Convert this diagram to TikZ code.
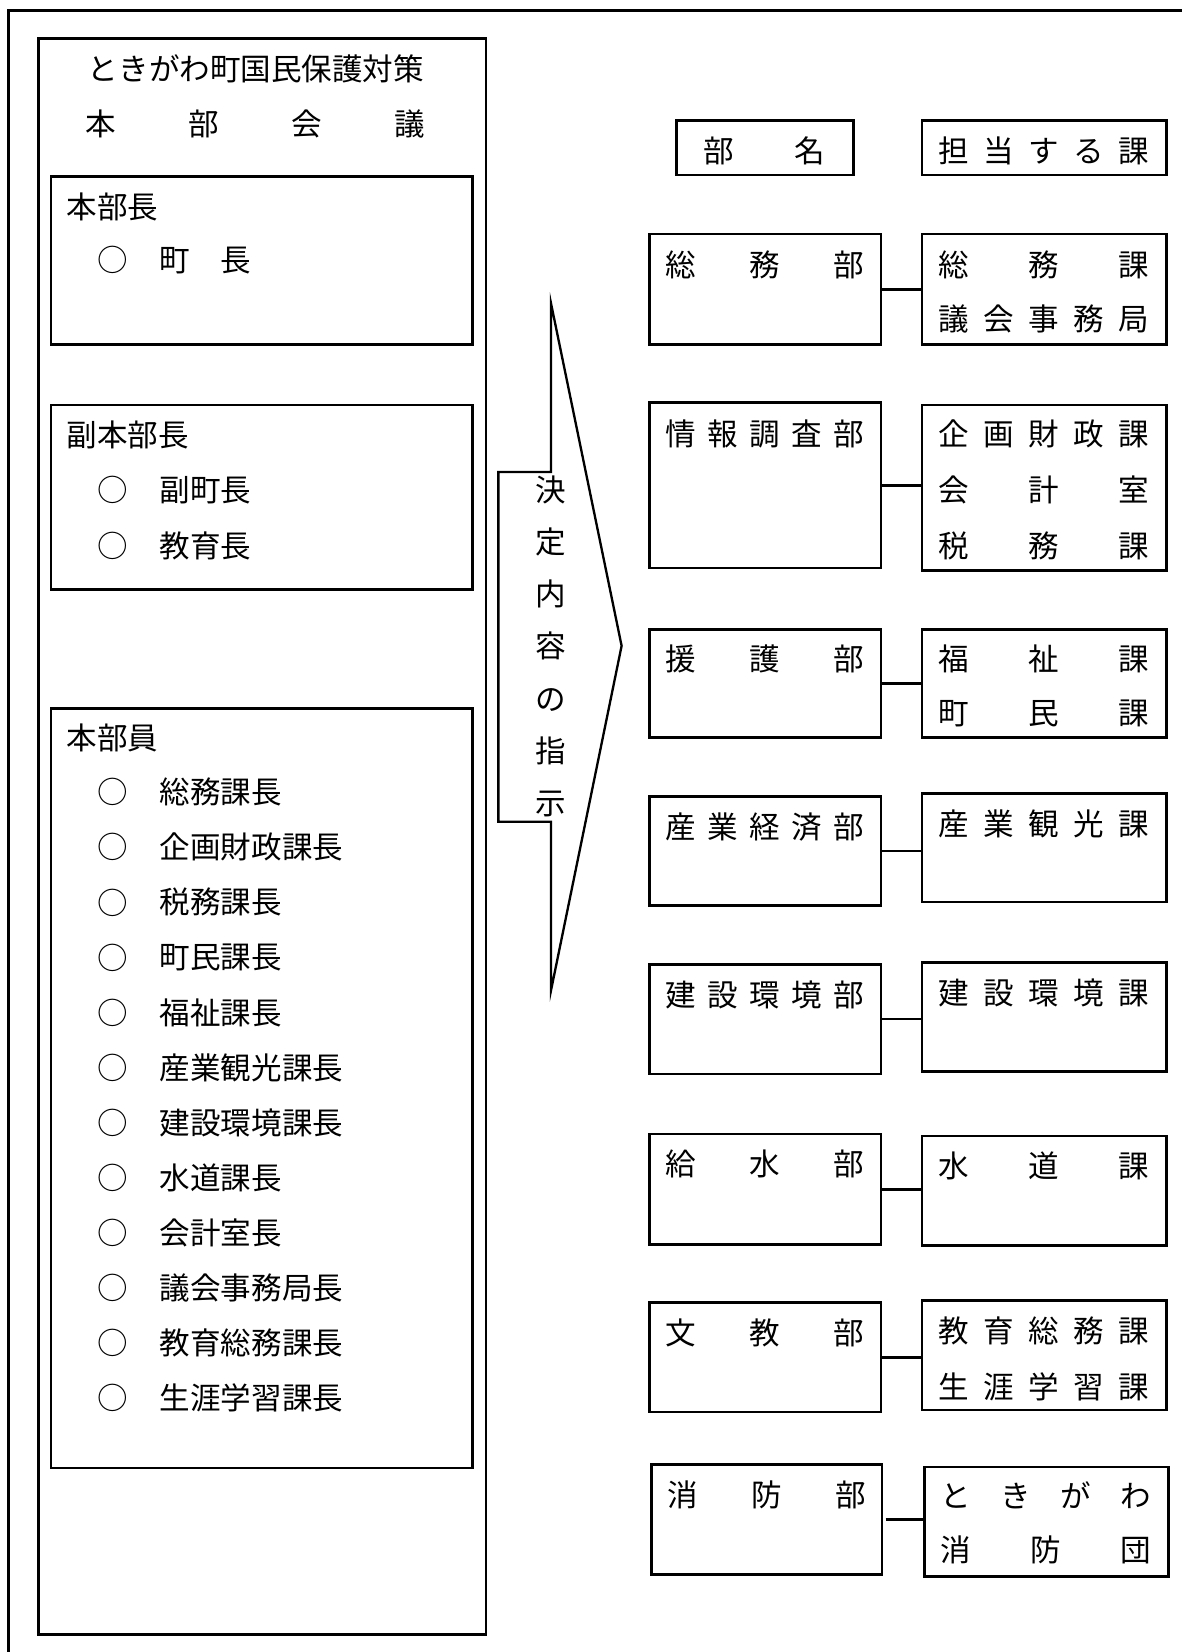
\documentclass[tikz,border=0pt]{standalone}
\usepackage{fontspec}
\setmainfont{Noto Sans CJK JP}
\newcommand\tline[5]{\node[txt] (#1) at (#2,#3) {\makebox[#4pt]{#5}};}
\begin{document}
\begin{tikzpicture}[x=1pt,y=-1pt,
 box/.style={draw, line width=2.5pt, inner sep=0pt, anchor=north west},
 txt/.style={anchor=west, inner sep=0pt, font=\fontsize{29pt}{35pt}\selectfont},
 conn/.style={line width=2.6pt}]
\useasboundingbox (0,0) rectangle (1122,1568);
\draw[line width=3pt] (8,1568) -- (8,10) -- (1122,10);
% left big box
\node[box, minimum width=425pt, minimum height=1515pt] (big) at (35,35) {};
\node[txt, anchor=center] (title) at (243,65) {ときがわ町国民保護対策};
\tline{title2}{80.5}{118}{323}{本\hfill 部\hfill 会\hfill 議}
% 本部長
\node[box, minimum width=400pt, minimum height=160pt] (b1) at (47,166) {};
\tline{b1h}{63}{196}{87}{本部長}
\node[txt, anchor=center] (b1c1) at (107,247) {○};
\tline{b1i1}{151.5}{247}{87}{町\hfill 長}
% 副本部長
\node[box, minimum width=400pt, minimum height=175pt] (b2) at (47,383) {};
\tline{b2h}{63}{413}{116}{副本部長}
\node[txt, anchor=center] (b2c1) at (107,465) {○};
\node[txt] (b2i1) at (151.5,465) {副町長};
\node[txt, anchor=center] (b2c2) at (107,518) {○};
\node[txt] (b2i2) at (151.5,518) {教育長};
% 本部員
\node[box, minimum width=400pt, minimum height=721pt] (b3) at (47,671) {};
\tline{b3h}{63}{700}{87}{本部員}
\foreach \t [count=\i] in {総務課長,企画財政課長,税務課長,町民課長,福祉課長,産業観光課長,建設環境課長,水道課長,会計室長,議会事務局長,教育総務課長,生涯学習課長}{
  \node[txt, anchor=center] (b3c\i) at (107,{752+52.25*(\i-1)}) {○};
  \node[txt] (b3i\i) at (151.5,{752+52.25*(\i-1)}) {\t};
}
% arrow
\draw[line width=2.2pt, line join=miter] (523,288) -- (523,448) -- (473,448) -- (473,780) -- (523,780) -- (523,940) -- (590,613) -- cycle;
\node[txt, anchor=center, align=center, font=\fontsize{29pt}{49.5pt}\selectfont] (arrtxt) at (523,613.5) {決\\定\\内\\容\\の\\指\\示};
% headers
\node[box, minimum width=168pt, minimum height=52pt] (h1) at (641,113) {};
\tline{h1t}{667.5}{143}{115}{部\hfill 名}
\node[box, minimum width=232pt, minimum height=52pt] (h2) at (874,113) {};
\tline{h2t}{890.5}{143}{200}{担\hfill 当\hfill す\hfill る\hfill 課}
% departments
\node[box, minimum width=220pt, minimum height=105pt] (d1) at (615,221) {};
\node[box, minimum width=220pt, minimum height=157pt] (d2) at (615,381) {};
\node[box, minimum width=220pt, minimum height=103pt] (d3) at (615,596) {};
\node[box, minimum width=220pt, minimum height=103pt] (d4) at (615,755) {};
\node[box, minimum width=220pt, minimum height=104pt] (d5) at (615,914) {};
\node[box, minimum width=220pt, minimum height=105pt] (d6) at (615,1075) {};
\node[box, minimum width=220pt, minimum height=104pt] (d7) at (615,1235) {};
\node[box, minimum width=219pt, minimum height=104pt] (d8) at (617,1389) {};
\tline{d1t}{631.5}{251}{188}{総\hfill 務\hfill 部}
\tline{d2t}{631.5}{412}{188}{情\hfill 報\hfill 調\hfill 査\hfill 部}
\tline{d3t}{631.5}{625}{188}{援\hfill 護\hfill 部}
\tline{d4t}{631.5}{785}{188}{産\hfill 業\hfill 経\hfill 済\hfill 部}
\tline{d5t}{631.5}{944}{188}{建\hfill 設\hfill 環\hfill 境\hfill 部}
\tline{d6t}{631.5}{1105}{188}{給\hfill 水\hfill 部}
\tline{d7t}{631.5}{1265}{188}{文\hfill 教\hfill 部}
\tline{d8t}{633.5}{1419}{188}{消\hfill 防\hfill 部}
% sections
\node[box, minimum width=232pt, minimum height=105pt] (s1) at (874,221) {};
\node[box, minimum width=232pt, minimum height=157pt] (s2) at (874,383) {};
\node[box, minimum width=232pt, minimum height=103pt] (s3) at (874,596) {};
\node[box, minimum width=232pt, minimum height=103pt] (s4) at (874,752) {};
\node[box, minimum width=232pt, minimum height=104pt] (s5) at (874,912) {};
\node[box, minimum width=232pt, minimum height=104pt] (s6) at (874,1077) {};
\node[box, minimum width=232pt, minimum height=104pt] (s7) at (874,1233) {};
\node[box, minimum width=232pt, minimum height=104pt] (s8) at (876,1391) {};
\tline{s1a}{890.5}{251}{200}{総\hfill 務\hfill 課}
\tline{s1b}{890.5}{303}{200}{議\hfill 会\hfill 事\hfill 務\hfill 局}
\tline{s2a}{890.5}{412}{200}{企\hfill 画\hfill 財\hfill 政\hfill 課}
\tline{s2b}{890.5}{465}{200}{会\hfill 計\hfill 室}
\tline{s2c}{890.5}{518}{200}{税\hfill 務\hfill 課}
\tline{s3a}{890.5}{625}{200}{福\hfill 祉\hfill 課}
\tline{s3b}{890.5}{677}{200}{町\hfill 民\hfill 課}
\tline{s4a}{890.5}{782}{200}{産\hfill 業\hfill 観\hfill 光\hfill 課}
\tline{s5a}{890.5}{942}{200}{建\hfill 設\hfill 環\hfill 境\hfill 課}
\tline{s6a}{890.5}{1107}{200}{水\hfill 道\hfill 課}
\tline{s7a}{890.5}{1263}{200}{教\hfill 育\hfill 総\hfill 務\hfill 課}
\tline{s7b}{890.5}{1316}{200}{生\hfill 涯\hfill 学\hfill 習\hfill 課}
\tline{s8a}{892.5}{1419}{200}{と\hfill き\hfill が\hfill わ}
\tline{s8b}{892.5}{1471}{200}{消\hfill 防\hfill 団}
% connectors
\draw[conn] (d1.east) -- (d1.east -| s1.west);
\draw[conn] (d2.east) -- (d2.east -| s2.west);
\draw[conn] (d3.east) -- (d3.east -| s3.west);
\draw[conn] (d4.east) -- (d4.east -| s4.west);
\draw[conn] (d5.east) -- (d5.east -| s5.west);
\draw[conn] (d6.east) -- (d6.east -| s6.west);
\draw[conn] (d7.east) -- (d7.east -| s7.west);
\draw[conn] ([xshift=2pt]d8.east) -- (d8.east -| s8.west);
\end{tikzpicture}
\end{document}
